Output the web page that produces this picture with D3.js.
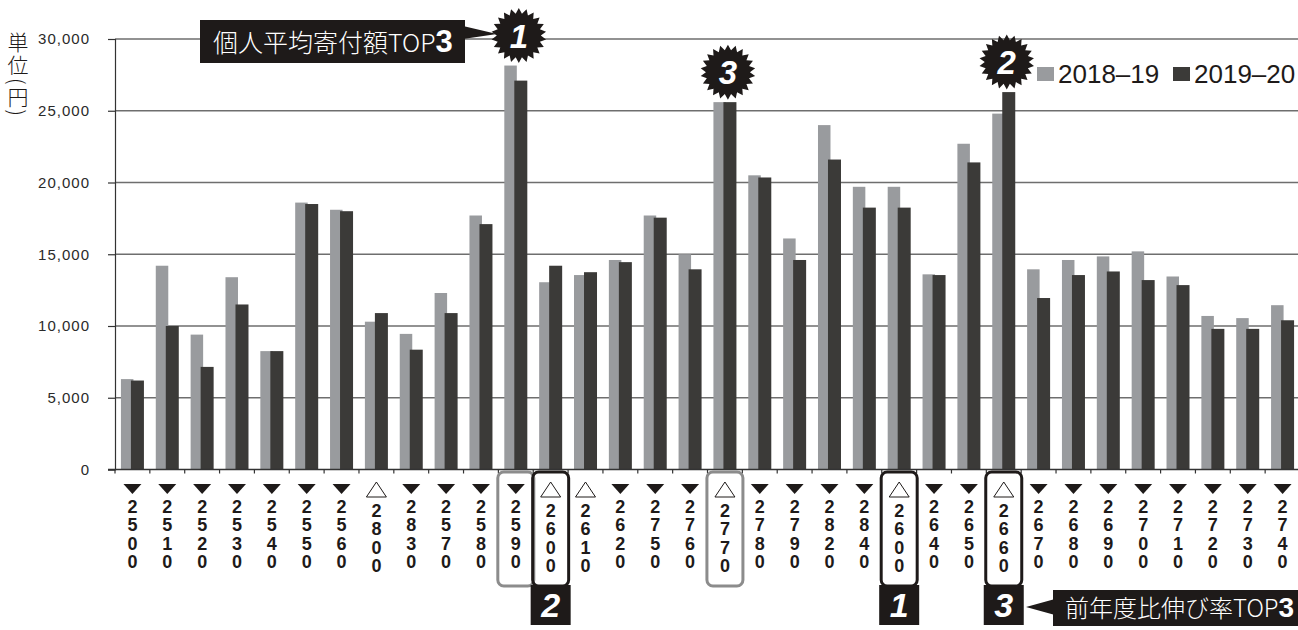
<!DOCTYPE html>
<html>
<head>
<meta charset="utf-8">
<script src="https://cdn.jsdelivr.net/npm/d3@7"></script>
<style>
  html, body { margin: 0; padding: 0; background: #fff; }
  svg { display: block; font-family: 'Liberation Sans', Arial, sans-serif; }
  .jp { font-family: 'Noto Sans CJK JP', sans-serif; font-weight: 300; }
</style>
</head>
<body>
<svg id="chart" width="1298" height="630"></svg>
<script>
// 団体コード（表示順）
const categories = ["2500","2510","2520","2530","2540","2550","2560","2800","2830","2570","2580","2590",
  "2600","2610","2620","2750","2760","2770","2780","2790","2820","2840","2600","2640","2650","2660",
  "2670","2680","2690","2700","2710","2720","2730","2740"];
// ▼ = down, △ = up
const marks = ["down","down","down","down","down","down","down","up","down","down","down","down",
  "up","up","down","down","down","up","down","down","down","down","up","down","down","up",
  "down","down","down","down","down","down","down","down"];
const values1819 = [6300,14200,9400,13400,8250,18600,18100,10300,9450,12300,17700,28150,
  13050,13550,14600,17700,15000,25600,20500,16100,24000,19700,19700,13600,22700,24800,
  13950,14600,14850,15200,13450,10700,10550,11450];
const values1920 = [6200,10000,7150,11500,8250,18500,18000,10900,8350,10900,17100,27100,
  14200,13750,14450,17550,13950,25600,20350,14600,21600,18250,18250,13550,21400,26300,
  11950,13550,13800,13200,12850,9800,9800,10400];
const seriesNames = ["2018–19", "2019–20"];
const yTicks = [0, 5000, 10000, 15000, 20000, 25000, 30000];
// 個人平均寄付額TOP3 (index into categories)
const avgTop = [{ index: 11, rank: "1" }, { index: 25, rank: "2" }, { index: 17, rank: "3" }];
// 前年度比伸び率TOP3
const growthTop = [{ index: 22, rank: "1" }, { index: 12, rank: "2" }, { index: 25, rank: "3" }];

const colLight = "#999b9e", colDark = "#3b3a38", ink = "#1e1a19", grid = "#6e6e6e";

const svg = d3.select("#chart");

const x = d3.scaleBand()
  .domain(d3.range(categories.length))
  .range([115, 1300])
  .paddingInner(0.34)
  .paddingOuter(0.17);
const x1 = d3.scaleBand().domain([0, 1]).range([0, x.bandwidth()]);
const y = d3.scaleLinear().domain([0, 30000]).range([469.5, 39]);
const step = x.step();
const boundary = i => x(i) - step * x.paddingInner() / 2;
const cx = i => x(i) + x.bandwidth() / 2;

// gridlines
svg.append("g")
  .selectAll("line")
  .data(yTicks.filter(d => d > 0))
  .join("line")
  .attr("x1", 115).attr("x2", 1298)
  .attr("y1", d => y(d)).attr("y2", d => y(d))
  .attr("stroke", grid).attr("stroke-width", 1.3);

// y axis
const yAxis = svg.append("g")
  .attr("transform", "translate(115,0)")
  .call(d3.axisLeft(y).tickValues(yTicks).tickFormat(d3.format(",")).tickSize(7).tickPadding(18));
yAxis.select(".domain").attr("stroke", "#333").attr("stroke-width", 1.2);
yAxis.selectAll(".tick line").attr("stroke", "#333").attr("stroke-width", 1.2);
yAxis.selectAll(".tick text")
  .attr("fill", "#2a2a2a")
  .style("font-size", "15px")
  .style("letter-spacing", "1px")
  .style("font-family", "'Liberation Sans', Arial, sans-serif");

// bars
const groups = svg.append("g")
  .selectAll("g")
  .data(categories.map((c, i) => ({ i, v: [values1819[i], values1920[i]] })))
  .join("g")
  .attr("transform", d => `translate(${x(d.i)},0)`);
groups.append("rect")
  .attr("x", x1(0))
  .attr("width", x1.bandwidth() + 1)
  .attr("y", d => y(d.v[0]))
  .attr("height", d => y(0) - y(d.v[0]))
  .attr("fill", colLight);
groups.append("rect")
  .attr("x", x1(1) - 1.5)
  .attr("width", x1.bandwidth() + 1.5)
  .attr("y", d => y(d.v[1]))
  .attr("height", d => y(0) - y(d.v[1]))
  .attr("fill", colDark);

// x axis line and boundary ticks
svg.append("line")
  .attr("x1", 108).attr("x2", 1298)
  .attr("y1", y(0)).attr("y2", y(0))
  .attr("stroke", "#333").attr("stroke-width", 1.3);
svg.append("g")
  .selectAll("line")
  .data(d3.range(categories.length))
  .join("line")
  .attr("x1", i => boundary(i)).attr("x2", i => boundary(i))
  .attr("y1", y(0)).attr("y2", y(0) + 4)
  .attr("stroke", "#333").attr("stroke-width", 1.2);

// category labels: markers + vertical digits
const labels = svg.append("g")
  .selectAll("g")
  .data(categories.map((c, i) => ({ c, i, m: marks[i] })))
  .join("g")
  .attr("transform", d => `translate(${cx(d.i)},0)`);
labels.filter(d => d.m === "down").append("path")
  .attr("d", "M-9,484L9,484L0,494Z")
  .attr("fill", ink);
labels.filter(d => d.m === "up").append("path")
  .attr("d", "M-10,497L10,497L0,482Z")
  .attr("fill", "#fff").attr("stroke", ink).attr("stroke-width", 1);
labels.each(function (d) {
  const g = d3.select(this);
  const base = d.m === "up" ? 517 : 513;
  d.c.split("").forEach((ch, j) => {
    g.append("text")
      .attr("y", base + j * 18.4)
      .attr("text-anchor", "middle")
      .attr("fill", ink)
      .style("font-size", "18px")
      .style("font-weight", "bold")
      .text(ch);
  });
});

// frames around highlighted categories
const grayFrames = avgTop.filter(a => !growthTop.some(g => g.index === a.index));
svg.append("g")
  .selectAll("rect")
  .data(grayFrames)
  .join("rect")
  .attr("x", d => cx(d.index) - 18).attr("y", 472)
  .attr("width", 36).attr("height", 114).attr("rx", 6)
  .attr("fill", "none").attr("stroke", "#8c8c8c").attr("stroke-width", 3);
const gFrames = svg.append("g")
  .selectAll("g")
  .data(growthTop)
  .join("g")
  .attr("transform", d => `translate(${cx(d.index)},0)`);
gFrames.append("rect")
  .attr("x", -18).attr("y", 472)
  .attr("width", 36).attr("height", 114).attr("rx", 6)
  .attr("fill", "none").attr("stroke", ink).attr("stroke-width", 3);
gFrames.append("rect")
  .attr("x", -20).attr("y", 585)
  .attr("width", 40).attr("height", 40)
  .attr("fill", ink);
gFrames.append("text")
  .attr("y", 617)
  .attr("text-anchor", "middle")
  .attr("fill", "#fff")
  .style("font-size", "34px")
  .style("font-weight", "bold")
  .style("font-style", "italic")
  .text(d => d.rank);

// star badges above the top average bars
const starPts = [];
for (let k = 0; k < 44; k++) {
  const a = k * Math.PI / 22;
  const r = k % 2 === 0 ? 27.5 : 22;
  starPts.push([a, r]);
}
const starPath = d3.lineRadial().curve(d3.curveLinearClosed)(starPts);
const stars = svg.append("g")
  .selectAll("g")
  .data(avgTop)
  .join("g")
  .attr("transform", d => `translate(${cx(d.index) + 3},${y(Math.max(values1819[d.index], values1920[d.index])) - 30})`);

// title callout (drawn before stars so the wedge meets star 1)
const title = svg.append("g");
title.append("path")
  .attr("d", "M463,26L497,34L463,39Z")
  .attr("fill", ink);
title.append("rect")
  .attr("x", 200).attr("y", 20).attr("width", 265).attr("height", 43)
  .attr("fill", ink);
const tt = title.append("text")
  .attr("x", 213).attr("y", 52)
  .attr("fill", "#fff");
tt.append("tspan").attr("class", "jp").style("font-size", "25px").text("個人平均寄付額TOP");
tt.append("tspan").style("font-size", "31px").style("font-weight", "bold").text("3");

stars.append("path").attr("d", starPath).attr("fill", ink);
stars.append("text")
  .attr("y", 12)
  .attr("text-anchor", "middle")
  .attr("fill", "#fff")
  .style("font-size", "33px")
  .style("font-weight", "bold")
  .style("font-style", "italic")
  .text(d => d.rank);

// growth callout (bottom right)
const gc = svg.append("g");
gc.append("path")
  .attr("d", "M1026,607L1055,599L1055,615Z")
  .attr("fill", ink);
gc.append("rect")
  .attr("x", 1053).attr("y", 590).attr("width", 245).attr("height", 36)
  .attr("fill", ink);
const gt = gc.append("text")
  .attr("x", 1065).attr("y", 617)
  .attr("fill", "#fff");
gt.append("tspan").attr("class", "jp").style("font-size", "24px").text("前年度比伸び率TOP");
gt.append("tspan").style("font-size", "28px").style("font-weight", "bold").text("3");

// legend
const legend = svg.append("g")
  .selectAll("g")
  .data(seriesNames)
  .join("g")
  .attr("transform", (d, i) => `translate(${i === 0 ? 1037 : 1173},0)`);
legend.append("rect")
  .attr("x", 0).attr("y", 67).attr("width", 17).attr("height", 14)
  .attr("fill", (d, i) => i === 0 ? colLight : colDark);
legend.append("text")
  .attr("x", 21).attr("y", 83)
  .attr("fill", ink)
  .style("font-size", "26px")
  .text(d => d);

// unit label, set vertically
svg.append("text")
  .attr("class", "jp")
  .attr("x", 18).attr("y", 32)
  .attr("fill", ink)
  .style("writing-mode", "vertical-rl")
  .style("font-size", "21px")
  .style("letter-spacing", "2px")
  .text("単位(円)");
</script>
</body>
</html>
